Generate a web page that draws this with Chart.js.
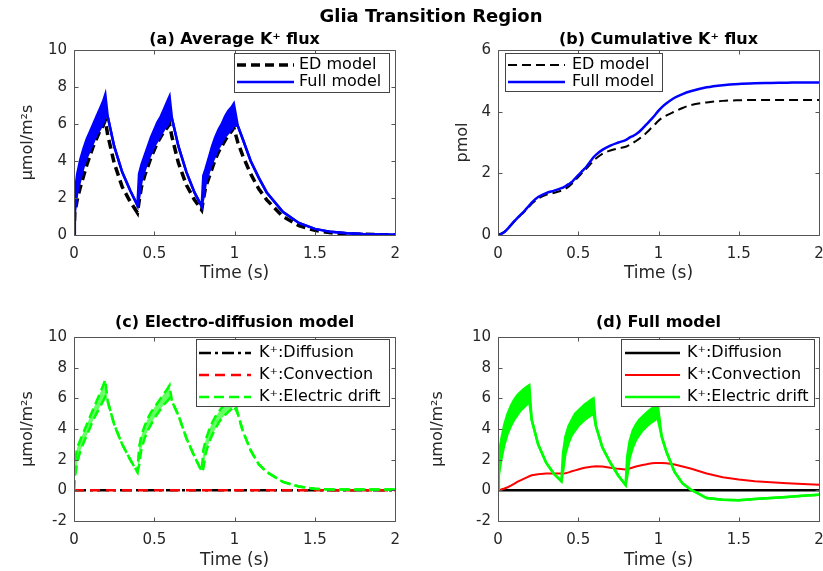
<!DOCTYPE html>
<html>
<head>
<meta charset="utf-8">
<title>Glia Transition Region</title>
<script src="https://cdn.jsdelivr.net/npm/chart.js@4.4.1/dist/chart.umd.min.js"></script>
<style>
  body { margin: 0; background: #fff; }
  #fig { position: relative; width: 823px; height: 571px; overflow: hidden; background: #fff; }
  #fig canvas { position: absolute; }
  #suptitle { position: absolute; left: 0; top: 5px; width: 862px; text-align: center;
    font: bold 18px "DejaVu Sans", sans-serif; color: #000; z-index: 2; }
</style>
</head>
<body>
<div id="fig">
  <div id="suptitle">Glia Transition Region</div>
  <canvas id="panelA" width="410" height="275" style="left:0;top:20px"></canvas>
  <canvas id="panelB" width="430" height="275" style="left:410px;top:20px"></canvas>
  <canvas id="panelC" width="410" height="281" style="left:0;top:290px"></canvas>
  <canvas id="panelD" width="430" height="281" style="left:410px;top:290px"></canvas>
</div>
<script>
// time samples (s), shared by every series below
const timeS = [
  0, 0.005, 0.02, 0.04, 0.06, 0.08, 0.10, 0.12, 0.14, 0.16, 0.18, 0.195, 0.21, 0.25, 0.30, 0.35, 0.395,
  0.405, 0.42, 0.44, 0.46, 0.48, 0.50, 0.52, 0.54, 0.56, 0.58, 0.595, 0.61, 0.65, 0.70, 0.75, 0.795,
  0.805, 0.82, 0.84, 0.86, 0.88, 0.90, 0.92, 0.94, 0.96, 0.98, 0.995, 1.02, 1.05, 1.10, 1.15, 1.20, 1.30, 1.40, 1.50, 1.60, 1.70, 1.80, 1.90, 2.00
];

const xTicks = [0, 0.5, 1, 1.5, 2];
const fluxTicks = [-2, 0, 2, 4, 6, 8, 10];
const avgFluxTicks = [0, 2, 4, 6, 8, 10];
const cumTicks = [0, 2, 4, 6];

// (a) average K+ flux, umol/m^2 s  (full model oscillates between Hi and Lo)
const fullFluxHi = [
  0, 2.3, 3.3, 4.1, 4.7, 5.2, 5.6, 6.0, 6.4, 6.8, 7.2, 7.6, 6.4, 4.8, 3.4, 2.4, 1.6,
  3.3, 3.8, 4.3, 4.8, 5.3, 5.7, 6.1, 6.4, 6.8, 7.2, 7.5, 6.3, 4.8, 3.4, 2.3, 1.55,
  3.2, 3.6, 4.2, 4.8, 5.3, 5.7, 6.0, 6.4, 6.7, 6.9, 7.1, 5.9, 5.2, 4.0, 3.1, 2.3, 1.25, 0.65, 0.33, 0.17, 0.09, 0.05, 0.03, 0.02
];
const fullFluxLo = [
  0, 1.2, 2.3, 3.0, 3.7, 4.2, 4.6, 5.0, 5.4, 5.7, 6.0, 6.4, 6.4, 4.8, 3.4, 2.4, 1.6,
  2.0, 2.9, 3.5, 4.0, 4.4, 4.8, 5.1, 5.4, 5.7, 5.9, 6.2, 6.3, 4.8, 3.4, 2.3, 1.55,
  2.0, 2.8, 3.4, 3.9, 4.3, 4.7, 5.0, 5.3, 5.5, 5.7, 5.9, 5.9, 5.2, 4.0, 3.1, 2.3, 1.25, 0.65, 0.33, 0.17, 0.09, 0.05, 0.03, 0.02
];
const edFlux = [
  0, 1.2, 1.9, 2.6, 3.2, 3.8, 4.3, 4.8, 5.2, 5.6, 5.9, 6.2, 5.4, 3.9, 2.6, 1.8, 1.2,
  1.8, 2.6, 3.2, 3.7, 4.2, 4.6, 5.0, 5.3, 5.6, 5.8, 6.0, 5.3, 3.9, 2.7, 1.9, 1.35,
  1.9, 2.6, 3.1, 3.6, 4.1, 4.5, 4.8, 5.1, 5.4, 5.6, 5.8, 5.0, 4.3, 3.3, 2.5, 1.9, 1.0, 0.5, 0.25, 0.12, 0.06, 0.04, 0.02, 0.01
];

// (b) cumulative K+ flux, pmol
const fullCum = [
  0, 0.01, 0.04, 0.1, 0.2, 0.32, 0.44, 0.55, 0.65, 0.75, 0.87, 0.96, 1.05, 1.23, 1.36, 1.44, 1.52,
  1.54, 1.58, 1.65, 1.72, 1.83, 1.94, 2.05, 2.15, 2.28, 2.42, 2.52, 2.6, 2.76, 2.9, 3.0, 3.08,
  3.11, 3.16, 3.21, 3.27, 3.35, 3.45, 3.56, 3.67, 3.78, 3.9, 4.0, 4.14, 4.27, 4.45, 4.57, 4.66, 4.79, 4.86, 4.9, 4.92, 4.93, 4.94, 4.95, 4.95
];
const edCum = [
  0, 0.01, 0.04, 0.1, 0.2, 0.31, 0.43, 0.54, 0.64, 0.74, 0.85, 0.93, 1.01, 1.18, 1.3, 1.37, 1.44,
  1.46, 1.5, 1.57, 1.66, 1.77, 1.88, 1.99, 2.1, 2.2, 2.32, 2.41, 2.48, 2.63, 2.74, 2.81, 2.86,
  2.88, 2.92, 2.98, 3.05, 3.12, 3.2, 3.29, 3.39, 3.5, 3.6, 3.68, 3.79, 3.88, 4.0, 4.12, 4.21, 4.3, 4.35, 4.37, 4.38, 4.38, 4.38, 4.38, 4.38
];

// (c) electro-diffusion model components
const edDiffusion = [
  0, 0, 0, 0, 0, 0, 0, 0, 0, 0, 0, 0, 0, 0, 0, 0, 0,
  0, 0, 0, 0, 0, 0, 0, 0, 0, 0, 0, 0, 0, 0, 0, 0,
  0, 0, 0, 0, 0, 0, 0, 0, 0, 0, 0, 0, 0, 0, 0, 0, 0, 0, 0, 0, 0, 0, 0, 0
];
const edConvection = [
  0, 0, 0, 0, 0, 0, 0, 0, 0, 0, 0, 0, 0, 0, 0, 0, 0,
  0, 0, 0, 0, 0, 0, 0, 0, 0, 0, 0, 0, 0, 0, 0, 0,
  0, 0, 0, 0, 0, 0, 0, 0, 0, 0, 0, 0, 0, 0, 0, 0, 0, 0, 0, 0, 0, 0, 0, 0
];
const edDriftHi = [
  0, 1.8, 2.8, 3.3, 3.8, 4.3, 4.8, 5.3, 5.8, 6.3, 6.8, 7.2, 5.8, 4.3, 3.0, 2.0, 1.2,
  2.8, 3.6, 4.2, 4.7, 5.1, 5.4, 5.7, 6.0, 6.3, 6.6, 6.85, 5.8, 4.9, 3.4, 2.2, 1.25,
  2.6, 3.3, 3.9, 4.4, 4.8, 5.1, 5.4, 5.6, 5.8, 6.0, 6.1, 5.0, 3.9, 2.6, 1.7, 1.2, 0.55, 0.25, 0.1, 0.06, 0.05, 0.05, 0.05, 0.05
];
const edDriftLo = [
  0, 0.8, 1.8, 2.6, 3.1, 3.6, 4.1, 4.6, 5.0, 5.4, 5.8, 6.1, 5.8, 4.3, 3.0, 2.0, 1.2,
  1.6, 2.7, 3.4, 3.9, 4.3, 4.7, 5.0, 5.3, 5.6, 5.8, 6.0, 5.8, 4.9, 3.4, 2.2, 1.25,
  1.4, 2.4, 3.1, 3.6, 4.0, 4.4, 4.7, 4.9, 5.1, 5.3, 5.5, 5.0, 3.9, 2.6, 1.7, 1.2, 0.55, 0.25, 0.1, 0.06, 0.05, 0.05, 0.05, 0.05
];

// (d) full model components
const fullDiffusion = [
  0, 0, 0, 0, 0, 0, 0, 0, 0, 0, 0, 0, 0, 0, 0, 0, 0,
  0, 0, 0, 0, 0, 0, 0, 0, 0, 0, 0, 0, 0, 0, 0, 0,
  0, 0, 0, 0, 0, 0, 0, 0, 0, 0, 0, 0, 0, 0, 0, 0, 0, 0, 0, 0, 0, 0, 0, 0
];
const fullConvection = [
  0, 0.01, 0.05, 0.12, 0.2, 0.3, 0.42, 0.55, 0.65, 0.75, 0.85, 0.92, 0.98, 1.05, 1.1, 1.1, 1.1,
  1.1, 1.12, 1.17, 1.24, 1.3, 1.36, 1.42, 1.47, 1.51, 1.54, 1.56, 1.57, 1.56, 1.47, 1.4, 1.36,
  1.37, 1.42, 1.49, 1.55, 1.6, 1.65, 1.69, 1.73, 1.76, 1.78, 1.79, 1.78, 1.76, 1.68, 1.56, 1.42, 1.1, 0.86, 0.7, 0.6, 0.53, 0.47, 0.42, 0.36
];
const fullDriftHi = [
  0, 2.3, 3.3, 4.3, 5.0, 5.5, 5.9, 6.2, 6.4, 6.6, 6.75, 6.85, 4.6, 3.0, 1.8, 1.05, 0.6,
  2.4, 3.5, 4.2, 4.6, 5.0, 5.2, 5.4, 5.6, 5.75, 5.9, 6.0, 4.2, 2.8, 1.8, 0.95, 0.35,
  2.2, 3.2, 3.9, 4.3, 4.6, 4.8, 5.0, 5.2, 5.35, 5.5, 5.6, 3.5, 2.5, 1.2, 0.45, 0.05, -0.5, -0.62, -0.64, -0.57, -0.5, -0.43, -0.35, -0.28
];
const fullDriftLo = [
  0, 1.0, 2.0, 3.0, 3.7, 4.2, 4.6, 4.9, 5.2, 5.4, 5.6, 5.8, 4.6, 3.0, 1.8, 1.05, 0.6,
  1.2, 2.4, 3.1, 3.6, 3.9, 4.2, 4.4, 4.6, 4.75, 4.9, 5.0, 4.2, 2.8, 1.8, 0.95, 0.35,
  0.9, 2.1, 2.8, 3.3, 3.6, 3.9, 4.1, 4.3, 4.45, 4.6, 4.7, 3.5, 2.5, 1.2, 0.45, 0.05, -0.5, -0.62, -0.64, -0.57, -0.5, -0.43, -0.35, -0.28
];

const FONT = '"DejaVu Sans", sans-serif';
const AXIS_COLOR = '#262626';
Chart.defaults.font.family = FONT;
Chart.defaults.color = AXIS_COLOR;

const series = ys => timeS.map((t, i) => ({ x: t, y: ys[i] }));

// box around the axes with inward ticks on all four sides
const framePlugin = {
  id: 'frame',
  afterDatasetsDraw(chart) {
    const { ctx, chartArea: a, scales: { x, y } } = chart;
    const L = Math.round(a.left) + 0.5, R = Math.round(a.right) + 0.5;
    const T = Math.round(a.top) + 0.5, B = Math.round(a.bottom) + 0.5;
    ctx.save();
    ctx.strokeStyle = '#555';
    ctx.lineWidth = 1;
    ctx.beginPath();
    ctx.rect(L, T, R - L, B - T);
    x.ticks.forEach(t => {
      const px = Math.round(x.getPixelForValue(t.value)) + 0.5;
      ctx.moveTo(px, B); ctx.lineTo(px, B - 4);
      ctx.moveTo(px, T); ctx.lineTo(px, T + 4);
    });
    y.ticks.forEach(t => {
      const py = Math.round(y.getPixelForValue(t.value)) + 0.5;
      ctx.moveTo(L, py); ctx.lineTo(L + 4, py);
      ctx.moveTo(R, py); ctx.lineTo(R - 4, py);
    });
    ctx.stroke();
    ctx.restore();
  }
};

// MATLAB-like boxed legend inside the axes
const legendPlugin = {
  id: 'boxLegend',
  afterDraw(chart, args, opts) {
    const { ctx, chartArea: a } = chart;
    const items = chart.data.datasets.filter(d => d.label);
    const left = Math.round(opts.anchor === 'left' ? a.left + opts.dx : a.right - opts.dx - opts.width);
    const top = Math.round(a.top + opts.dy);
    ctx.save();
    ctx.fillStyle = '#fff';
    ctx.fillRect(left, top, opts.width, opts.height);
    ctx.strokeStyle = '#444';
    ctx.lineWidth = 1;
    ctx.strokeRect(left + 0.5, top + 0.5, opts.width, opts.height);
    ctx.font = '16px ' + FONT;
    ctx.textBaseline = 'middle';
    items.forEach((d, i) => {
      const yy = top + opts.firstRow + i * opts.rowGap;
      ctx.beginPath();
      ctx.setLineDash(d.borderDash || []);
      ctx.strokeStyle = d.borderColor;
      ctx.lineWidth = d.borderWidth;
      ctx.moveTo(left + opts.sampleX, yy);
      ctx.lineTo(left + opts.sampleX + opts.sampleW, yy);
      ctx.stroke();
      ctx.setLineDash([]);
      ctx.fillStyle = '#000';
      ctx.fillText(d.label, left + opts.textX, yy);
    });
    ctx.restore();
  }
};

function makePanel(canvasId, p) {
  return new Chart(document.getElementById(canvasId), {
    type: 'line',
    data: { datasets: p.datasets },
    options: {
      responsive: false,
      animation: false,
      events: [],
      layout: { padding: { left: 0, right: p.padRight, top: 0, bottom: 0 } },
      elements: { point: { radius: 0 }, line: { tension: 0 } },
      plugins: {
        legend: { display: false },
        tooltip: { enabled: false },
        title: {
          display: true, fullSize: false, text: p.title, color: '#000',
          font: { family: FONT, size: 16, weight: 'bold' },
          padding: { top: p.titleTop, bottom: p.titleBottom }
        },
        boxLegend: p.legend
      },
      scales: {
        x: {
          type: 'linear', min: 0, max: 2,
          afterFit: s => { s.height = p.xAxisH; },
          afterBuildTicks: s => { s.ticks = xTicks.map(v => ({ value: v })); },
          grid: { display: false, drawTicks: false }, border: { display: false },
          ticks: { padding: 10, font: { size: 15 }, maxRotation: 0, callback: v => String(v) },
          title: { display: true, text: 'Time (s)', font: { size: 17 }, padding: { top: 0, bottom: p.xTitlePad } }
        },
        y: {
          type: 'linear', min: p.yTicks[0], max: p.yTicks[p.yTicks.length - 1],
          afterFit: s => { s.width = p.yAxisW; },
          afterBuildTicks: s => { s.ticks = p.yTicks.map(v => ({ value: v })); },
          grid: { display: false, drawTicks: false }, border: { display: false },
          ticks: { padding: 7, font: { size: 15 }, callback: v => String(v) },
          title: { display: true, text: p.yTitle, font: { size: 16 }, padding: { top: p.yTitlePad, bottom: 0 } }
        }
      }
    },
    plugins: [framePlugin, legendPlugin]
  });
}

const BLUE = '#0000ff', BLACK = '#000000', RED = '#ff0000', GREEN = '#00ff00';

makePanel('panelA', {
  title: '(a) Average K\u207A flux',
  yTitle: '\u03BCmol/m\u00B2s',
  yTicks: avgFluxTicks,
  padRight: 14, yAxisW: 74, xAxisH: 60,
  titleTop: 10, titleBottom: 0.8, xTitlePad: 11, yTitlePad: 18,
  legend: { anchor: 'right', dx: 6, dy: 3, width: 155, height: 39, sampleX: 3, sampleW: 57, textX: 65, firstRow: 12, rowGap: 17 },
  datasets: [
    { label: 'ED model', data: series(edFlux), borderColor: BLACK, borderWidth: 3.5, borderDash: [9, 5], fill: false, order: 2 },
    { label: 'Full model', data: series(fullFluxHi), borderColor: BLUE, borderWidth: 2.5, fill: false, order: 0 },
    { data: series(fullFluxLo), borderColor: BLUE, borderWidth: 2.5, fill: '-1', backgroundColor: BLUE, order: 1 }
  ]
});

makePanel('panelB', {
  title: '(b) Cumulative K\u207A flux',
  yTitle: 'pmol',
  yTicks: cumTicks,
  padRight: 21, yAxisW: 88, xAxisH: 60,
  titleTop: 10, titleBottom: 0.8, xTitlePad: 11, yTitlePad: 43,
  legend: { anchor: 'left', dx: 7, dy: 3, width: 157, height: 38, sampleX: 3, sampleW: 57, textX: 67, firstRow: 12, rowGap: 17 },
  datasets: [
    { label: 'ED model', data: series(edCum), borderColor: BLACK, borderWidth: 2, borderDash: [9, 5], cubicInterpolationMode: 'monotone', fill: false, order: 1 },
    { label: 'Full model', data: series(fullCum), borderColor: BLUE, borderWidth: 2.5, cubicInterpolationMode: 'monotone', fill: false, order: 0 }
  ]
});

makePanel('panelC', {
  title: '(c) Electro-diffusion model',
  yTitle: '\u03BCmol/m\u00B2s',
  yTicks: fluxTicks,
  padRight: 14, yAxisW: 74, xAxisH: 50,
  titleTop: 23.4, titleBottom: 4.4, xTitlePad: 0.5, yTitlePad: 18,
  legend: { anchor: 'right', dx: 6, dy: 2, width: 193, height: 67, sampleX: 3, sampleW: 52, textX: 63, firstRow: 14, rowGap: 22 },
  datasets: [
    { label: 'K\u207A:Diffusion', data: series(edDiffusion), borderColor: BLACK, borderWidth: 2.5, borderDash: [12, 4, 3, 4], fill: false, order: 3 },
    { label: 'K\u207A:Convection', data: series(edConvection), borderColor: RED, borderWidth: 2.5, borderDash: [10, 6], fill: false, order: 2 },
    { label: 'K\u207A:Electric drift', data: series(edDriftHi), borderColor: GREEN, borderWidth: 2.5, borderDash: [10, 5], fill: false, order: 0 },
    { data: series(edDriftLo), borderColor: GREEN, borderWidth: 2.5, borderDash: [10, 5], fill: '-1', backgroundColor: 'rgba(0,255,0,0.6)', order: 1 }
  ]
});

makePanel('panelD', {
  title: '(d) Full model',
  yTitle: '\u03BCmol/m\u00B2s',
  yTicks: fluxTicks,
  padRight: 21, yAxisW: 88, xAxisH: 50,
  titleTop: 23.4, titleBottom: 4.4, xTitlePad: 0.5, yTitlePad: 18,
  legend: { anchor: 'right', dx: 5, dy: 2, width: 193, height: 67, sampleX: 4, sampleW: 55, textX: 66, firstRow: 14, rowGap: 22 },
  datasets: [
    { label: 'K\u207A:Diffusion', data: series(fullDiffusion), borderColor: BLACK, borderWidth: 2.5, fill: false, order: 3 },
    { label: 'K\u207A:Convection', data: series(fullConvection), borderColor: RED, borderWidth: 2, fill: false, order: 2 },
    { label: 'K\u207A:Electric drift', data: series(fullDriftHi), borderColor: GREEN, borderWidth: 2.5, fill: false, order: 0 },
    { data: series(fullDriftLo), borderColor: GREEN, borderWidth: 2.5, fill: '-1', backgroundColor: GREEN, order: 1 }
  ]
});
</script>
</body>
</html>
